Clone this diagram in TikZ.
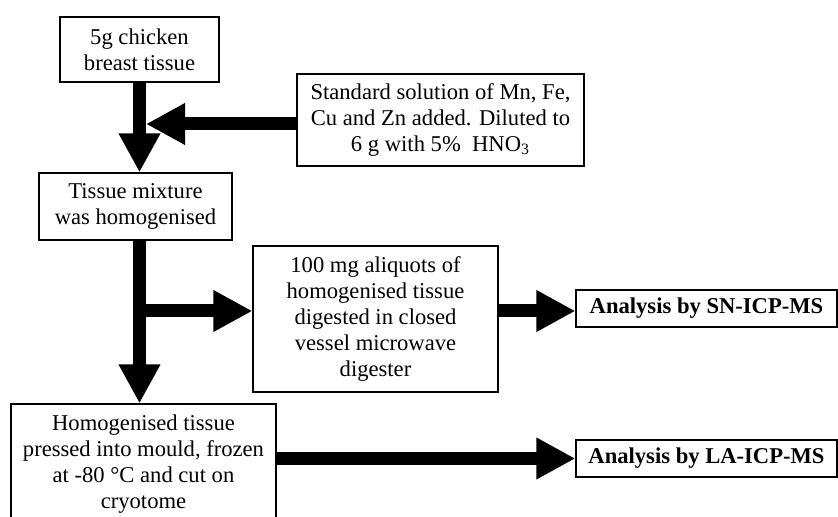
\documentclass[tikz,border=0pt]{standalone}
\usepackage{fontspec}
\setmainfont{Liberation Serif}
\usetikzlibrary{arrows.meta}

\tikzset{
    stage/.style={draw, line width=0.6pt, fill=white, inner sep=0pt, align=center,
        font=\fontsize{11.3}{13}\selectfont},
    result/.style={stage, font=\fontsize{11.3}{13}\selectfont\bfseries,
        minimum width=130.5pt, minimum height=18.5pt},
    fat/.style={line width=6.5pt, -{Triangle[width=19.5pt,length=19.5pt]}}
}

\begin{document}
\begin{tikzpicture}[x=0.5pt, y=-0.5pt]
                \useasboundingbox[fill=white] (0,0) rectangle (838,517);

                \node[stage, minimum width=79.5pt, minimum height=32.5pt] (chicken) at (139.5,49.5)
                    {5g chicken\\breast tissue};
                \node[stage, minimum width=143.5pt, minimum height=46pt] (spike) at (440.5,120)
                    {Standard solution of Mn, Fe,\\Cu and Zn added. Diluted to\\6 g with 5\%\ \ HNO\textsubscript{3}};
                \node[stage, minimum width=96.5pt, minimum height=33.5pt] (mixture) at (135.5,206.5)
                    {Tissue mixture\\was homogenised};
                \node[stage, minimum width=122.5pt, minimum height=73pt] (digest) at (375.5,319)
                    {100 mg aliquots of\\homogenised tissue\\digested in closed\\vessel microwave\\digester};
                \node[stage, minimum width=132.5pt, minimum height=60pt] (mould) at (143.5,464)
                    {Homogenised tissue\\pressed into mould, frozen\\at -80 °C and cut on\\cryotome};

                \node[result] (sn) at (706.5,308.5) {Analysis by SN-ICP-MS};
                \node[result] (la) at (706.5,458.5) {Analysis by LA-ICP-MS};

                \coordinate (meet) at (146,124);
                \coordinate (fork) at (139.5,311);

                \draw[fat] (chicken.south -| fork) -- (mixture.north -| fork);
                \draw[fat] (spike.west |- meet) -- (meet);

                \draw[fat] (mixture.south -| fork) -- (mould.north -| fork);
                \draw[fat] (fork) -- (fork -| digest.west);

                \draw[fat] (digest.east |- fork) -- (sn.west |- fork);
                \draw[fat] (mould.east |- la.west) -- (la.west);
            \end{tikzpicture}
\end{document}
